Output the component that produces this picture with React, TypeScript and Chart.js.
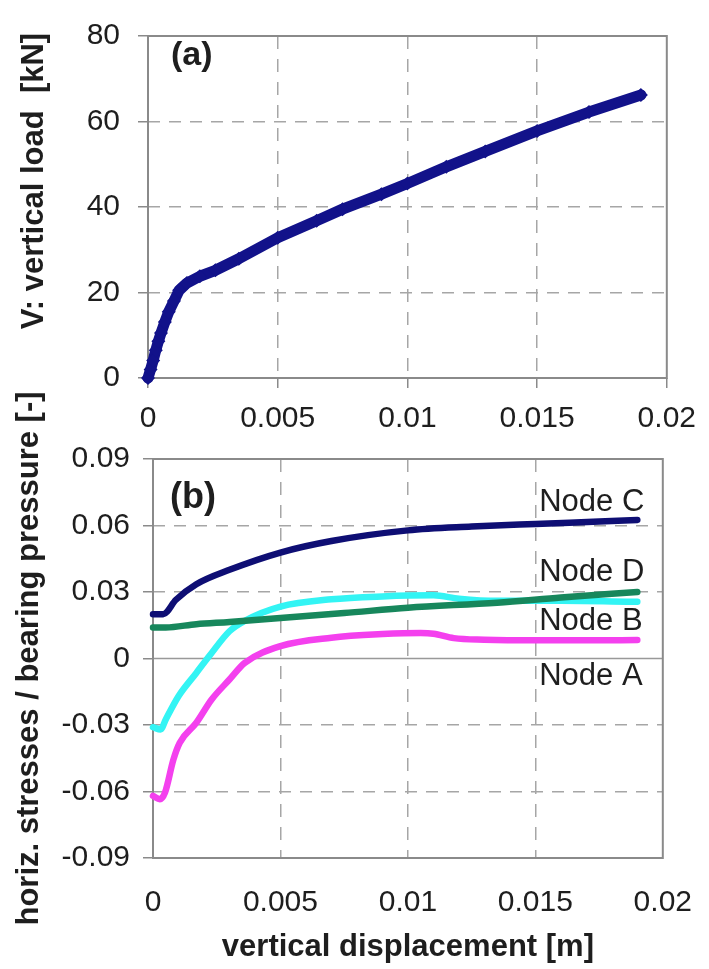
import React, { useEffect, useRef } from 'react';
import { Chart, registerables } from 'chart.js';

Chart.register(...registerables);

// ---------- data ----------
const LOAD_X = [0, 0.0001, 0.0002, 0.0003, 0.0004, 0.0005, 0.00065, 0.0008, 0.001, 0.0012, 0.0015, 0.002, 0.0026, 0.0035, 0.005, 0.0065, 0.0075, 0.009, 0.01, 0.0115, 0.013, 0.015, 0.017, 0.019];
const LOAD_Y = [0, 2, 4.1, 6.5, 8.6, 10.5, 13.1, 15.5, 18, 20.5, 22.2, 23.8, 25.2, 27.9, 32.8, 36.8, 39.5, 43.0, 45.5, 49.4, 53.0, 57.8, 62.2, 66.2];

const NODE_C_X = [0, 0.0004, 0.0009, 0.0017, 0.003, 0.005, 0.007, 0.01, 0.0125, 0.015, 0.0175, 0.019];
const NODE_C_Y = [0.020, 0.020, 0.0265, 0.0335, 0.040, 0.0478, 0.053, 0.0578, 0.0595, 0.0607, 0.0618, 0.0625];

const NODE_D_X = [0, 0.0005, 0.0017, 0.003, 0.005, 0.0075, 0.01, 0.0135, 0.016, 0.019];
const NODE_D_Y = [0.0140, 0.0140, 0.0155, 0.0165, 0.0183, 0.0205, 0.0229, 0.0252, 0.0275, 0.0300];

const NODE_B_X = [0, 0.0003, 0.0005, 0.001, 0.0017, 0.0022, 0.003, 0.0036, 0.005, 0.007, 0.009, 0.011, 0.012, 0.0135, 0.016, 0.019];
const NODE_B_Y = [-0.031, -0.032, -0.0275, -0.017, -0.0065, 0.001, 0.0123, 0.017, 0.0234, 0.0267, 0.028, 0.0285, 0.027, 0.026, 0.026, 0.0256];

const NODE_A_X = [0, 0.00027, 0.00047, 0.0008, 0.00105, 0.0017, 0.0023, 0.003, 0.0036, 0.005, 0.007, 0.009, 0.0105, 0.011, 0.0118, 0.013, 0.015, 0.017, 0.019];
const NODE_A_Y = [-0.062, -0.0635, -0.0605, -0.0456, -0.038, -0.029, -0.0185, -0.0095, -0.002, 0.0056, 0.0094, 0.011, 0.0115, 0.0112, 0.0092, 0.0085, 0.0082, 0.0082, 0.0083];

const X_TICKS = [0, 0.005, 0.01, 0.015, 0.02];
const X_TICK_LABELS = ['0', '0.005', '0.01', '0.015', '0.02'];
const LOAD_TICKS = [0, 20, 40, 60, 80];
const LOAD_TICK_LABELS = ['0', '20', '40', '60', '80'];
const STRESS_TICKS = [-0.09, -0.06, -0.03, 0, 0.03, 0.06, 0.09];
const STRESS_TICK_LABELS = ['-0.09', '-0.06', '-0.03', '0', '0.03', '0.06', '0.09'];

const NODE_NAMES = ['Node C', 'Node D', 'Node B', 'Node A'];
const NODE_NAME_Y = [0.0705, 0.0389, 0.0167, -0.0081];
const NODE_NAME_X = 0.01515;

// ---------- styles ----------
const FONT = '"Liberation Sans", Arial, sans-serif';
const GRID = '#a6a6a6';
const FRAME = '#8a8a8a';
const TEXT = '#1e1e1e';
const NAVY = '#12128a';
const NAVY_C = '#0e0e74';
const CYAN = '#33f4f4';
const GREEN = '#17875c';
const MAGENTA = '#f440ee';

const pts = (xs: number[], ys: number[]) => xs.map((x, i) => ({ x, y: ys[i] }));

const hideAt = (vals: number[]) => (ctx: any) => {
  const v = ctx.tick ? ctx.tick.value : null;
  if (v === null) return GRID;
  return vals.some((t) => Math.abs(t - v) < 1e-9) ? 'rgba(0,0,0,0)' : GRID;
};

const framePlugin = (zeroLine: boolean) => ({
  id: 'frame' + (zeroLine ? 'B' : 'A'),
  beforeDatasetsDraw(chart: any) {
    const { ctx, chartArea: a } = chart;
    ctx.save();
    if (zeroLine) {
      const y0 = chart.scales.y.getPixelForValue(0);
      ctx.strokeStyle = '#999999';
      ctx.lineWidth = 1.5;
      ctx.beginPath();
      ctx.moveTo(a.left, y0);
      ctx.lineTo(a.right, y0);
      ctx.stroke();
    }
    ctx.strokeStyle = FRAME;
    ctx.lineWidth = 2;
    ctx.strokeRect(a.left, a.top, a.right - a.left, a.bottom - a.top);
    ctx.restore();
  },
});

const textPluginA = {
  id: 'textA',
  afterDraw(chart: any) {
    const { ctx } = chart;
    ctx.save();
    ctx.fillStyle = TEXT;
    ctx.font = `bold 34px ${FONT}`;
    ctx.textAlign = 'left';
    ctx.textBaseline = 'middle';
    ctx.fillText('(a)', 171, 56);
    ctx.translate(34, 181);
    ctx.rotate(-Math.PI / 2);
    ctx.textAlign = 'center';
    ctx.font = `bold 31px ${FONT}`;
    ctx.fillText('V: vertical load  [kN]', 0, 0);
    ctx.restore();
  },
};

const textPluginB = {
  id: 'textB',
  afterDraw(chart: any) {
    const { ctx, scales } = chart;
    ctx.save();
    ctx.fillStyle = TEXT;
    ctx.font = `bold 36px ${FONT}`;
    ctx.textAlign = 'left';
    ctx.textBaseline = 'middle';
    ctx.fillText('(b)', 170, 498);
    ctx.font = `31px ${FONT}`;
    const x = scales.x.getPixelForValue(NODE_NAME_X);
    NODE_NAMES.forEach((n, i) => {
      ctx.fillText(n, x, scales.y.getPixelForValue(NODE_NAME_Y[i]));
    });
    ctx.restore();
  },
};

const tickFont = { family: FONT, size: 30 };

function configA(): any {
  return {
    type: 'scatter',
    data: {
      datasets: [
        {
          data: pts(LOAD_X, LOAD_Y),
          showLine: true,
          borderColor: NAVY,
          backgroundColor: NAVY,
          borderWidth: 11,
          borderJoinStyle: 'round',
          borderCapStyle: 'round',
          pointStyle: 'rectRot',
          pointRadius: 7,
          pointBorderWidth: 0,
          pointBackgroundColor: NAVY,
          clip: false,
        },
      ],
    },
    options: {
      responsive: false,
      animation: false,
      devicePixelRatio: 1,
      layout: { padding: { left: 0, top: 25, right: 36, bottom: 511 } },
      plugins: { legend: { display: false }, tooltip: { enabled: false } },
      scales: {
        x: {
          type: 'linear',
          min: 0,
          max: 0.02,
          afterBuildTicks: (s: any) => { s.ticks = X_TICKS.map((v) => ({ value: v })); },
          afterFit: (s: any) => { s.height = 80; },
          ticks: { font: tickFont, color: TEXT, padding: 13, maxRotation: 0, autoSkip: false, callback: (_v: any, i: number) => X_TICK_LABELS[i] },
          grid: { color: hideAt([0, 0.02]), lineWidth: 1.5, tickLength: 10, tickColor: FRAME, tickWidth: 1.5 },
          border: { display: false, dash: [13, 10] },
        },
        y: {
          type: 'linear',
          min: 0,
          max: 80,
          afterBuildTicks: (s: any) => { s.ticks = LOAD_TICKS.map((v) => ({ value: v })); },
          afterFit: (s: any) => { s.width = 148; },
          ticks: { font: tickFont, color: TEXT, padding: 18, autoSkip: false, callback: (_v: any, i: number) => LOAD_TICK_LABELS[i] },
          grid: { color: hideAt([0, 80]), lineWidth: 1.5, tickLength: 10, tickColor: FRAME, tickWidth: 1.5 },
          border: { display: false, dash: [12, 9] },
        },
      },
    },
    plugins: [framePlugin(false), textPluginA],
  };
}

function lineDs(xs: number[], ys: number[], color: string) {
  return {
    data: pts(xs, ys),
    showLine: true,
    borderColor: color,
    backgroundColor: color,
    borderWidth: 6.5,
    borderJoinStyle: 'round',
    borderCapStyle: 'round',
    pointRadius: 0,
    cubicInterpolationMode: 'monotone',
    clip: false,
  };
}

function configB(): any {
  return {
    type: 'scatter',
    data: {
      datasets: [
        lineDs(NODE_C_X, NODE_C_Y, NAVY_C),
        lineDs(NODE_D_X, NODE_D_Y, GREEN),
        lineDs(NODE_B_X, NODE_B_Y, CYAN),
        lineDs(NODE_A_X, NODE_A_Y, MAGENTA),
      ],
    },
    options: {
      responsive: false,
      animation: false,
      devicePixelRatio: 1,
      layout: { padding: { left: 0, top: 459, right: 41, bottom: 0 } },
      plugins: { legend: { display: false }, tooltip: { enabled: false } },
      scales: {
        x: {
          type: 'linear',
          min: 0,
          max: 0.02,
          afterBuildTicks: (s: any) => { s.ticks = X_TICKS.map((v) => ({ value: v })); },
          afterFit: (s: any) => { s.height = 111; },
          ticks: { font: tickFont, color: TEXT, padding: 17, maxRotation: 0, autoSkip: false, callback: (_v: any, i: number) => X_TICK_LABELS[i] },
          grid: { color: hideAt([0, 0.02]), lineWidth: 1.5, tickLength: 10, tickColor: 'rgba(0,0,0,0)' },
          border: { display: false, dash: [13, 10] },
          title: {
            display: true,
            text: 'vertical displacement [m]',
            color: TEXT,
            font: { family: FONT, size: 31, weight: 'bold' },
            padding: { top: 0, bottom: 3 },
          },
        },
        y: {
          type: 'linear',
          min: -0.09,
          max: 0.09,
          afterBuildTicks: (s: any) => { s.ticks = STRESS_TICKS.map((v) => ({ value: v })); },
          afterFit: (s: any) => { s.width = 153; },
          ticks: { font: tickFont, color: TEXT, padding: 13, autoSkip: false, callback: (_v: any, i: number) => STRESS_TICK_LABELS[i] },
          grid: { color: hideAt([-0.09, 0, 0.09]), lineWidth: 1.5, tickLength: 10, tickColor: FRAME, tickWidth: 1.5 },
          border: { display: false, dash: [12, 9] },
          title: {
            display: true,
            text: 'horiz. stresses / bearing pressure [-]',
            color: TEXT,
            font: { family: FONT, size: 31, weight: 'bold' },
            padding: { top: 11, bottom: 0 },
          },
        },
      },
    },
    plugins: [framePlugin(true), textPluginB],
  };
}

export default function App() {
  const refA = useRef<HTMLCanvasElement>(null);
  const refB = useRef<HTMLCanvasElement>(null);

  useEffect(() => {
    const a = new Chart(refA.current as HTMLCanvasElement, configA());
    const b = new Chart(refB.current as HTMLCanvasElement, configB());
    return () => {
      a.destroy();
      b.destroy();
    };
  }, []);

  return (
    <div style={{ position: 'absolute', left: 0, top: 0, width: 709, height: 969, background: '#ffffff', overflow: 'hidden' }}>
      <canvas ref={refB} width={709} height={969} style={{ position: 'absolute', left: 0, top: 0, width: 709, height: 969 }} />
      <canvas ref={refA} width={709} height={969} style={{ position: 'absolute', left: 0, top: 0, width: 709, height: 969 }} />
    </div>
  );
}
